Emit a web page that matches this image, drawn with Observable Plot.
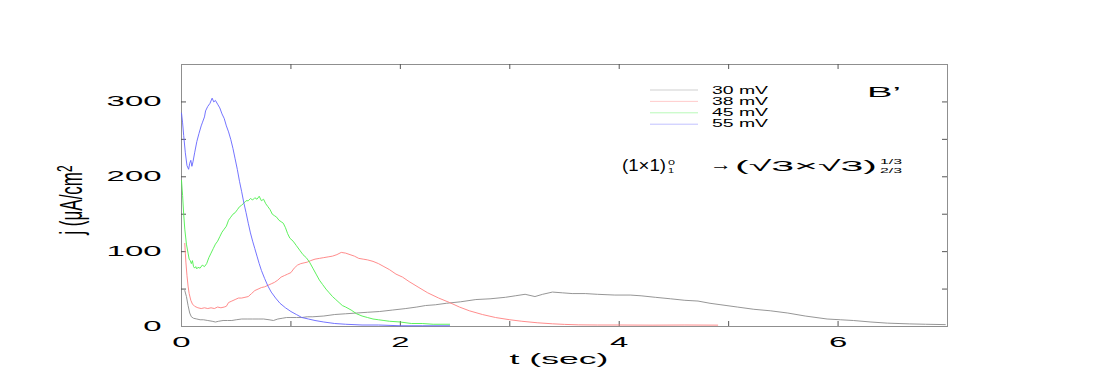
<!DOCTYPE html>
<html><head><meta charset="utf-8">
<script src="https://cdn.jsdelivr.net/npm/d3@7"></script>
<script src="https://cdn.jsdelivr.net/npm/@observablehq/plot@0.6"></script>
<style>
body{margin:0;background:#fff;}
#chart{position:relative;width:1100px;height:383px;}
</style>
</head><body><div id="chart"></div>
<script>
// ---- data ----
const seriesNames = ["30 mV", "38 mV", "45 mV", "55 mV"];
const seriesColors = ["#8a8a8a", "#ff7f7f", "#4cef4c", "#6464ff"];

const t30 = [0.03,0.045,0.06,0.075,0.09,0.11,0.14,0.17,0.20,0.24,0.28,0.31,0.34,0.38,0.42,0.46,0.50,0.55,0.60,0.65,0.70,0.75,0.80,0.84,0.88,0.92,0.96,1.00,1.05,1.10,1.15,1.20,1.30,1.40,1.50,1.60,1.70,1.81,1.93,2.05,2.15,2.23,2.32,2.42,2.55,2.69,2.82,2.96,3.05,3.14,3.23,3.30,3.39,3.48,3.57,3.69,3.80,3.96,4.10,4.20,4.33,4.47,4.60,4.72,4.83,4.93,5.08,5.23,5.38,5.54,5.70,5.90,6.02,6.14,6.30,6.45,6.65,6.80,6.98];
const j30 = [48,40,28,18,13,11,10,9,9,8,7,6,7,8,8,8,9,10,10,10,10,10,9,8,10,11,12,12,12,12,13,13,14,16,17,18,19,20,22,24,26,28,29,31,33,36,37,39,41,43,40,43,46,45,44,44,43,42,42,41,39,37,35,34,31,29,26,23,21,18,14,10,9,8,6,4.5,3.5,3,2.5];

const t38 = [0.03,0.035,0.04,0.05,0.06,0.07,0.085,0.10,0.12,0.15,0.18,0.21,0.24,0.27,0.30,0.33,0.36,0.39,0.41,0.43,0.46,0.49,0.52,0.55,0.58,0.61,0.64,0.67,0.70,0.73,0.76,0.79,0.82,0.85,0.88,0.91,0.94,0.97,1.00,1.03,1.06,1.09,1.12,1.15,1.18,1.22,1.26,1.30,1.34,1.38,1.42,1.46,1.50,1.54,1.58,1.62,1.66,1.70,1.75,1.80,1.85,1.90,1.96,2.02,2.08,2.17,2.25,2.35,2.45,2.54,2.63,2.75,2.87,3.00,3.11,3.25,3.39,3.50,3.63,3.80,4.00,4.30,4.60,4.90];
const j38 = [111,98,86,68,54,44,35,30,27,25,24,25,24,25,24,26,25,26,27,32,34,36,38,38,39,40,44,48,50,52,53,55,57,59,62,66,68,70,72,78,82,84,85,86,88,90,91,92,93,94,96,99,98,96,94,91,90,89,87,84,80,76,70,66,60,52,45,38,32,26,21,16,12,9,7,5,3.6,2.8,2.2,2,2,1.8,2,1.8];

const t45 = [0,0.01,0.02,0.03,0.045,0.06,0.07,0.08,0.09,0.10,0.11,0.12,0.13,0.14,0.15,0.17,0.19,0.21,0.23,0.25,0.27,0.29,0.31,0.33,0.35,0.37,0.39,0.41,0.43,0.45,0.47,0.49,0.51,0.53,0.55,0.57,0.59,0.61,0.63,0.65,0.67,0.69,0.71,0.73,0.75,0.77,0.79,0.81,0.83,0.85,0.87,0.89,0.91,0.93,0.95,0.97,0.99,1.02,1.05,1.08,1.11,1.14,1.17,1.20,1.23,1.26,1.29,1.32,1.35,1.38,1.41,1.44,1.47,1.50,1.55,1.60,1.65,1.70,1.75,1.80,1.85,1.90,2.00,2.10,2.20,2.30,2.45];
const j45 = [195,175,150,130,110,98,90,88,84,88,80,78,80,77,79,78,82,80,84,92,98,104,110,114,120,126,130,134,142,146,150,152,156,160,162,165,168,168,171,169,172,170,174,168,170,164,160,156,150,148,146,142,140,138,132,124,118,114,108,102,96,92,86,78,70,62,56,50,45,40,36,32,28,26,22,17,14,12,10,9,8,7,6,4,4,3,3];

const t55 = [0,0.01,0.02,0.035,0.05,0.065,0.075,0.085,0.095,0.105,0.12,0.14,0.16,0.18,0.19,0.21,0.22,0.24,0.26,0.28,0.295,0.31,0.33,0.35,0.37,0.39,0.41,0.43,0.45,0.47,0.49,0.51,0.53,0.55,0.57,0.59,0.61,0.63,0.65,0.67,0.69,0.71,0.73,0.76,0.79,0.82,0.86,0.90,0.95,1.00,1.05,1.10,1.16,1.22,1.30,1.40,1.50,1.65,1.80,2.00,2.20,2.45];
const j55 = [285,272,255,232,215,210,218,222,214,220,232,247,258,268,272,280,288,294,298,305,300,302,297,292,284,278,268,260,250,238,224,210,194,180,165,152,138,125,114,104,94,84,75,64,54,46,38,31,25,20,16,12,10,8,6,4,3,2,2,1,1,1];

const seriesT = [t30, t38, t45, t55];
const seriesJ = [j30, j38, j45, j55];

const xTickLabels = [0, 2, 4, 6];
const yTickLabels = [0, 100, 200, 300];
const xMinorTicks = [1, 2, 3, 4, 5, 6];
const yMinorTicks = [50, 100, 150, 200, 250, 300];

const rows = [];
seriesNames.forEach((s, k) => seriesT[k].forEach((t, i) => rows.push({s, t, j: seriesJ[k][i]})));

const FONT = "'Liberation Sans', Arial, Helvetica, sans-serif";
const W = 1100, H = 383, ML = 181, MR = 153, MT = 64, MB = 57;
const PW = W - ML - MR, PH = H - MT - MB;

const chart = Plot.plot({
  width: W, height: H,
  marginLeft: ML, marginRight: MR, marginTop: MT, marginBottom: MB,
  style: {fontFamily: FONT, fontSize: "14px", background: "#fff", color: "#000"},
  x: {domain: [0, 7]},
  y: {domain: [0, 350]},
  color: {domain: seriesNames, range: seriesColors},
  marks: [
    Plot.frame({stroke: "#8f8f8f"}),
    Plot.tickX(xMinorTicks, {x: d => d, insetTop: PH - 5, stroke: "#555"}),
    Plot.tickX(xMinorTicks, {x: d => d, insetBottom: PH - 5, stroke: "#555"}),
    Plot.tickY(yMinorTicks, {y: d => d, insetRight: PW - 5, stroke: "#555"}),
    Plot.tickY(yMinorTicks, {y: d => d, insetLeft: PW - 5, stroke: "#555"}),
    Plot.line(rows, {x: "t", y: "j", z: "s", stroke: "s", strokeWidth: 0.9}),
    Plot.axisX({ticks: xTickLabels, tickFormat: d => String(d), tickSize: 0, tickPadding: 11, label: null, fontSize: 14}),
    Plot.axisY({ticks: yTickLabels, tickFormat: d => String(d), tickSize: 0, tickPadding: 20, label: null, fontSize: 14})
  ]
});
document.getElementById("chart").appendChild(chart);

const svg = d3.select(chart);
// stretch tick labels horizontally like the reference
function stretch(el, sx) {
  const w = el.getComputedTextLength();
  el.setAttribute("textLength", w * sx);
  el.setAttribute("lengthAdjust", "spacingAndGlyphs");
}
svg.selectAll('g[aria-label="x-axis tick label"] text, g[aria-label="y-axis tick label"] text')
  .each(function() { stretch(this, 2.35); });

function addText(str, x, y, size, len, anchor = "start") {
  const t = svg.append("text")
    .attr("x", x).attr("y", y)
    .attr("font-family", FONT).attr("font-size", size)
    .attr("text-anchor", anchor).attr("fill", "#000")
    .text(str);
  if (len) t.attr("textLength", len).attr("lengthAdjust", "spacingAndGlyphs");
  return t;
}

// x axis title
addText("t (sec)", 559, 364, 15, 99, "middle");

// y axis title (rotated, stretched in screen x)
const yl = svg.append("g").attr("transform", "translate(82,200) scale(1.9,1) rotate(-90)")
  .append("text").attr("text-anchor", "middle").attr("font-family", FONT).attr("font-size", 17).attr("fill", "#000");
yl.append("tspan").text("j (μA/cm");
yl.append("tspan").attr("dy", "-0.45em").attr("font-size", "0.7em").text("2");

// legend
seriesNames.forEach((name, i) => {
  svg.append("line")
    .attr("x1", 650).attr("x2", 698)
    .attr("y1", 90 + i * 11.4).attr("y2", 90 + i * 11.4)
    .attr("stroke", seriesColors[i]).attr("stroke-opacity", 0.4).attr("stroke-width", 1);
  addText(name, 712, 94 + i * 11, 10, 56);
});

// panel label
addText("B’", 867, 97, 15, 34);

// formula
addText("(1×1)", 622, 171, 16, 44);
addText("0", 668, 165, 8, 7);
addText("1", 668, 172.5, 8, 6);
addText("→", 710, 170, 16, 22);
addText("(√3×√3)", 735, 171, 15, 142);
addText("1/3", 880, 164, 8, 22);
addText("2/3", 880, 173, 8, 22);
</script>
</body></html>
